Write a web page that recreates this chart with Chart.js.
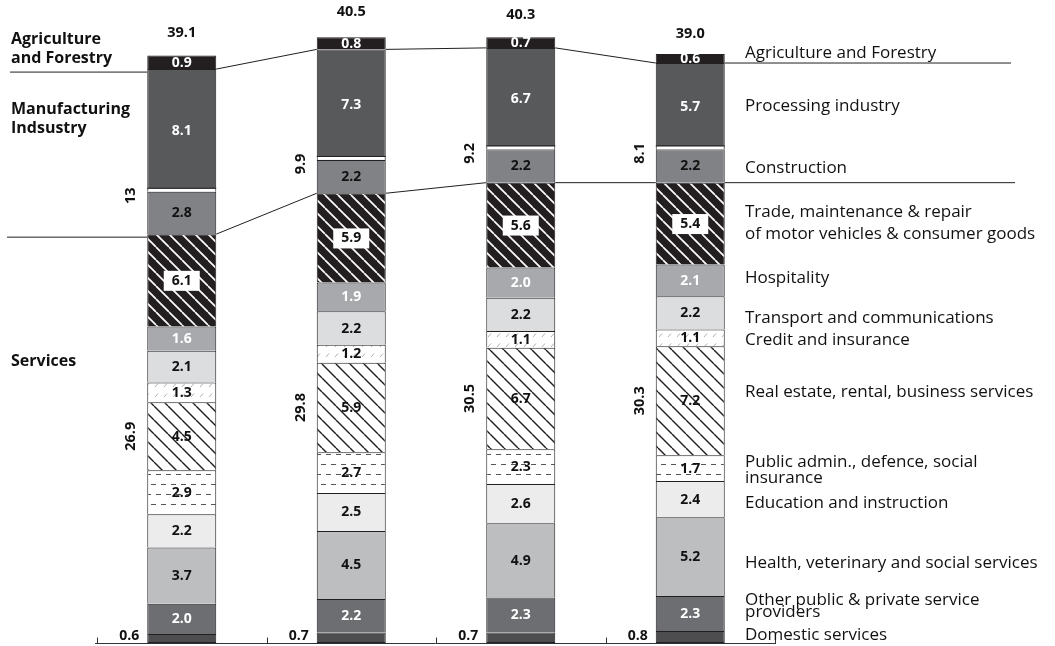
<!DOCTYPE html>
<html>
<head>
<meta charset="utf-8">
<script src="https://cdn.jsdelivr.net/npm/chart.js@4.4.1/dist/chart.umd.min.js"></script>
<style>
html,body{margin:0;padding:0;background:#fff;}
#wrap{width:1055px;height:646px;position:relative;}
</style>
</head>
<body>
<div id="wrap"><canvas id="c"></canvas></div>
<script>
// ---------------- DATA ----------------
const categories = ['Column 1', 'Column 2', 'Column 3', 'Column 4'];

// series, bottom of the stack to top
const domestic     = [0.6, 0.7, 0.7, 0.8];
const otherServ    = [2.0, 2.2, 2.3, 2.3];
const health       = [3.7, 4.5, 4.9, 5.2];
const education    = [2.2, 2.5, 2.6, 2.4];
const publicAdmin  = [2.9, 2.7, 2.3, 1.7];
const realEstate   = [4.5, 5.9, 6.7, 7.2];
const credit       = [1.3, 1.2, 1.1, 1.1];
const transport    = [2.1, 2.2, 2.2, 2.2];
const hospitality  = [1.6, 1.9, 2.0, 2.1];
const trade        = [6.1, 5.9, 5.6, 5.4];
const construction = [2.8, 2.2, 2.2, 2.2];
const processing   = [8.1, 7.3, 6.7, 5.7];
const agriculture  = [0.9, 0.8, 0.7, 0.6];

const barTotals      = ['39.1', '40.5', '40.3', '39.0'];
const servicesTotals = ['26.9', '29.8', '30.5', '30.3'];
const industryTotals = ['13', '9.9', '9.2', '8.1'];

const seriesNames = [
  'Domestic services', 'Other public & private service providers',
  'Health, veterinary and social services', 'Education and instruction',
  'Public admin., defence, social insurance', 'Real estate, rental, business services',
  'Credit and insurance', 'Transport and communications', 'Hospitality',
  'Trade, maintenance & repair of motor vehicles & consumer goods',
  'Construction', 'Processing industry', 'Agriculture and Forestry'
];
const seriesValues = [domestic, otherServ, health, education, publicAdmin, realEstate,
  credit, transport, hospitality, trade, construction, processing, agriculture];

const groupLabels = [['Agriculture', 'and Forestry'], ['Manufacturing', 'Indsustry'], ['Services']];
const legendLines = [
  ['Agriculture and Forestry'], ['Processing industry'], ['Construction'],
  ['Trade, maintenance & repair', 'of motor vehicles & consumer goods'],
  ['Hospitality'], ['Transport and communications'], ['Credit and insurance'],
  ['Real estate, rental, business services'], ['Public admin., defence, social', 'insurance'],
  ['Education and instruction'], ['Health, veterinary and social services'],
  ['Other public & private service', 'providers'], ['Domestic services']
];

// ---------------- STYLES / LAYOUT ----------------
const legendBaselines = [[58], [111], [173], [217, 239], [283], [323], [345], [397], [467, 483], [508], [568], [605, 617], [640]];
const groupBaselines = [[44, 63], [114, 133], [366]];

const mainCtx = document.getElementById('c').getContext('2d');
function pattern(w, h, draw) {
  const c = document.createElement('canvas');
  c.width = w; c.height = h;
  const g = c.getContext('2d');
  draw(g, w, h);
  return mainCtx.createPattern(c, 'repeat');
}
function diag(bg, fg, s, lw) {
  return pattern(s, s, (g) => {
    g.fillStyle = bg; g.fillRect(0, 0, s, s);
    g.strokeStyle = fg; g.lineWidth = lw;
    for (const k of [-s, 0, s]) { g.beginPath(); g.moveTo(k, 0); g.lineTo(k + s, s); g.stroke(); }
  });
}
const tradeFill = diag('#231f20', '#ffffff', 13, 1.7);
const realFill = diag('#ffffff', '#231f20', 14, 1.4);
const dashFill = pattern(10, 20, (g) => {
  g.fillStyle = '#fff'; g.fillRect(0, 0, 10, 20);
  g.strokeStyle = '#555'; g.lineWidth = 1;
  g.beginPath(); g.moveTo(1, 4.5); g.lineTo(6, 4.5); g.stroke();
  g.beginPath(); g.moveTo(6, 14.5); g.lineTo(10, 14.5); g.moveTo(0, 14.5); g.lineTo(1, 14.5); g.stroke();
});
const creditFill = pattern(9, 10, (g) => {
  g.fillStyle = '#fff'; g.fillRect(0, 0, 9, 10);
  g.strokeStyle = '#9a9a9a'; g.lineWidth = 0.8;
  g.beginPath(); g.moveTo(2, 7); g.lineTo(5, 3.5); g.stroke();
});

const fills = ['#4d4d4f', '#6d6e71', '#bcbec0', '#ececed', dashFill, realFill,
  creditFill, '#dcdddf', '#a7a9ac', tradeFill, '#808285', '#58595b', '#231f20'];
const labelColors = [null, '#fff', '#111', '#111', '#111', '#111', '#111', '#111', '#fff', '#111', '#111', '#fff', '#fff'];

const IDX = { domestic: 0, realEstate: 5, trade: 9, construction: 10, processing: 11, agriculture: 12 };

// ---------------- PLUGIN ----------------
const FONT = '"Open Sans", "DejaVu Sans", sans-serif';
const overlay = {
  id: 'overlay',
  afterDatasetsDraw(chart) {
    const ctx = chart.ctx, ys = chart.scales.y, xs = chart.scales.x, ca = chart.chartArea;
    const metas = chart.data.datasets.map((d, i) => chart.getDatasetMeta(i).data);
    const n = categories.length;
    ctx.save();

    // white stripe between processing industry and construction
    for (let i = 0; i < n; i++) {
      const el = metas[IDX.construction][i];
      const l = el.x - el.width / 2, w = el.width;
      ctx.fillStyle = '#fff';
      ctx.fillRect(l + 1, el.y - 3, w - 2, 3);
      ctx.strokeStyle = '#231f20'; ctx.lineWidth = 1;
      ctx.beginPath(); ctx.moveTo(l, el.y - 3.5); ctx.lineTo(l + w, el.y - 3.5); ctx.stroke();
    }

    // values inside segments
    ctx.textAlign = 'center'; ctx.textBaseline = 'middle';
    ctx.font = 'bold 14px ' + FONT;
    for (let s = 1; s < seriesValues.length; s++) {
      for (let i = 0; i < n; i++) {
        const el = metas[s][i];
        const cy = (el.y + el.base) / 2 + 0.5;
        const txt = seriesValues[s][i].toFixed(1);
        if (s === IDX.trade) {
          ctx.fillStyle = '#fff';
          ctx.fillRect(el.x - 18, cy - 10, 36, 20);
        }
        ctx.fillStyle = labelColors[s];
        ctx.fillText(txt, el.x, cy);
      }
    }

    // domestic values to the left of the bars
    ctx.textAlign = 'right'; ctx.textBaseline = 'alphabetic';
    ctx.fillStyle = '#111';
    for (let i = 0; i < n; i++) {
      const el = metas[IDX.domestic][i];
      ctx.fillText(domestic[i].toFixed(1), el.x - el.width / 2 - 8, 640);
    }

    // totals above bars
    ctx.textAlign = 'center';
    ctx.font = 'bold 14.5px ' + FONT;
    for (let i = 0; i < n; i++) {
      const el = metas[IDX.agriculture][i];
      const y = ys.getPixelForValue(parseFloat(barTotals[i])) - 14;
      ctx.fillText(barTotals[i], el.x, y);
    }

    // rotated group totals
    ctx.textBaseline = 'middle';
    for (let i = 0; i < n; i++) {
      const re = metas[IDX.realEstate][i];
      const co = metas[IDX.construction][i];
      const x = re.x - re.width / 2 - 16;
      [[servicesTotals[i], (re.y + re.base) / 2], [industryTotals[i], co.y + 4]].forEach(([t, y]) => {
        ctx.save(); ctx.translate(x, y); ctx.rotate(-Math.PI / 2);
        ctx.fillText(t, 0, 0); ctx.restore();
      });
    }

    // connecting lines
    ctx.strokeStyle = '#231f20'; ctx.lineWidth = 1;
    const lvl = (i, which) => which === 0 ? metas[IDX.agriculture][i].base : metas[IDX.trade][i].y;
    for (const which of [0, 1]) {
      ctx.beginPath();
      const first = metas[IDX.agriculture][0];
      ctx.moveTo(which === 0 ? 10 : 7, lvl(0, which) + 3);
      ctx.lineTo(first.x - first.width / 2, lvl(0, which) + 3);
      ctx.stroke();
      for (let i = 0; i < n - 1; i++) {
        const a = metas[IDX.agriculture][i], b = metas[IDX.agriculture][i + 1];
        ctx.beginPath();
        ctx.moveTo(a.x + a.width / 2, lvl(i, which));
        ctx.lineTo(b.x - b.width / 2, lvl(i + 1, which));
        ctx.stroke();
      }
      const last = metas[IDX.agriculture][n - 1];
      ctx.beginPath();
      ctx.moveTo(last.x + last.width / 2, lvl(n - 1, which));
      ctx.lineTo(which === 0 ? 1011 : 1015, lvl(n - 1, which));
      ctx.stroke();
    }

    // baseline with upward ticks at category boundaries
    ctx.strokeStyle = '#333';
    const by = Math.round(ca.bottom) + 0.5;
    ctx.beginPath(); ctx.moveTo(ca.left - 2, by); ctx.lineTo(ca.right + 1, by); ctx.stroke();
    const half = (xs.getPixelForValue(1) - xs.getPixelForValue(0)) / 2;
    for (let i = 0; i <= n; i++) {
      const tx = Math.round(xs.getPixelForValue(Math.min(i, n - 1)) + (i < n ? -half : half)) + 0.5;
      ctx.beginPath(); ctx.moveTo(tx, by); ctx.lineTo(tx, by - 6); ctx.stroke();
    }

    // left group labels
    ctx.fillStyle = '#111'; ctx.textAlign = 'left'; ctx.textBaseline = 'alphabetic';
    ctx.font = 'bold 16px ' + FONT;
    groupLabels.forEach((lines, g) => lines.forEach((t, k) => ctx.fillText(t, 11, groupBaselines[g][k])));

    // right labels
    ctx.font = '17px ' + FONT;
    legendLines.forEach((lines, g) => lines.forEach((t, k) => ctx.fillText(t, 745, legendBaselines[g][k])));

    ctx.restore();
  }
};

// ---------------- CHART ----------------
const datasets = seriesValues.map((vals, s) => ({
  label: seriesNames[s],
  data: vals,
  backgroundColor: fills[s],
  borderColor: '#231f20',
  borderWidth: { top: 1, left: 1, right: 1, bottom: s === 0 ? 1 : 0 },
  borderSkipped: false,
  barPercentage: 0.407,
  categoryPercentage: 1.0
}));

new Chart(document.getElementById('c'), {
  type: 'bar',
  data: { labels: categories, datasets },
  options: {
    responsive: true,
    maintainAspectRatio: false,
    animation: false,
    layout: { padding: { left: 97, right: 280, top: 7, bottom: 3 } },
    plugins: { legend: { display: false }, tooltip: { enabled: false } },
    scales: {
      x: { stacked: true, display: false },
      y: { stacked: true, display: false, min: 0, max: 42 }
    }
  },
  plugins: [overlay]
});
</script>
</body>
</html>
